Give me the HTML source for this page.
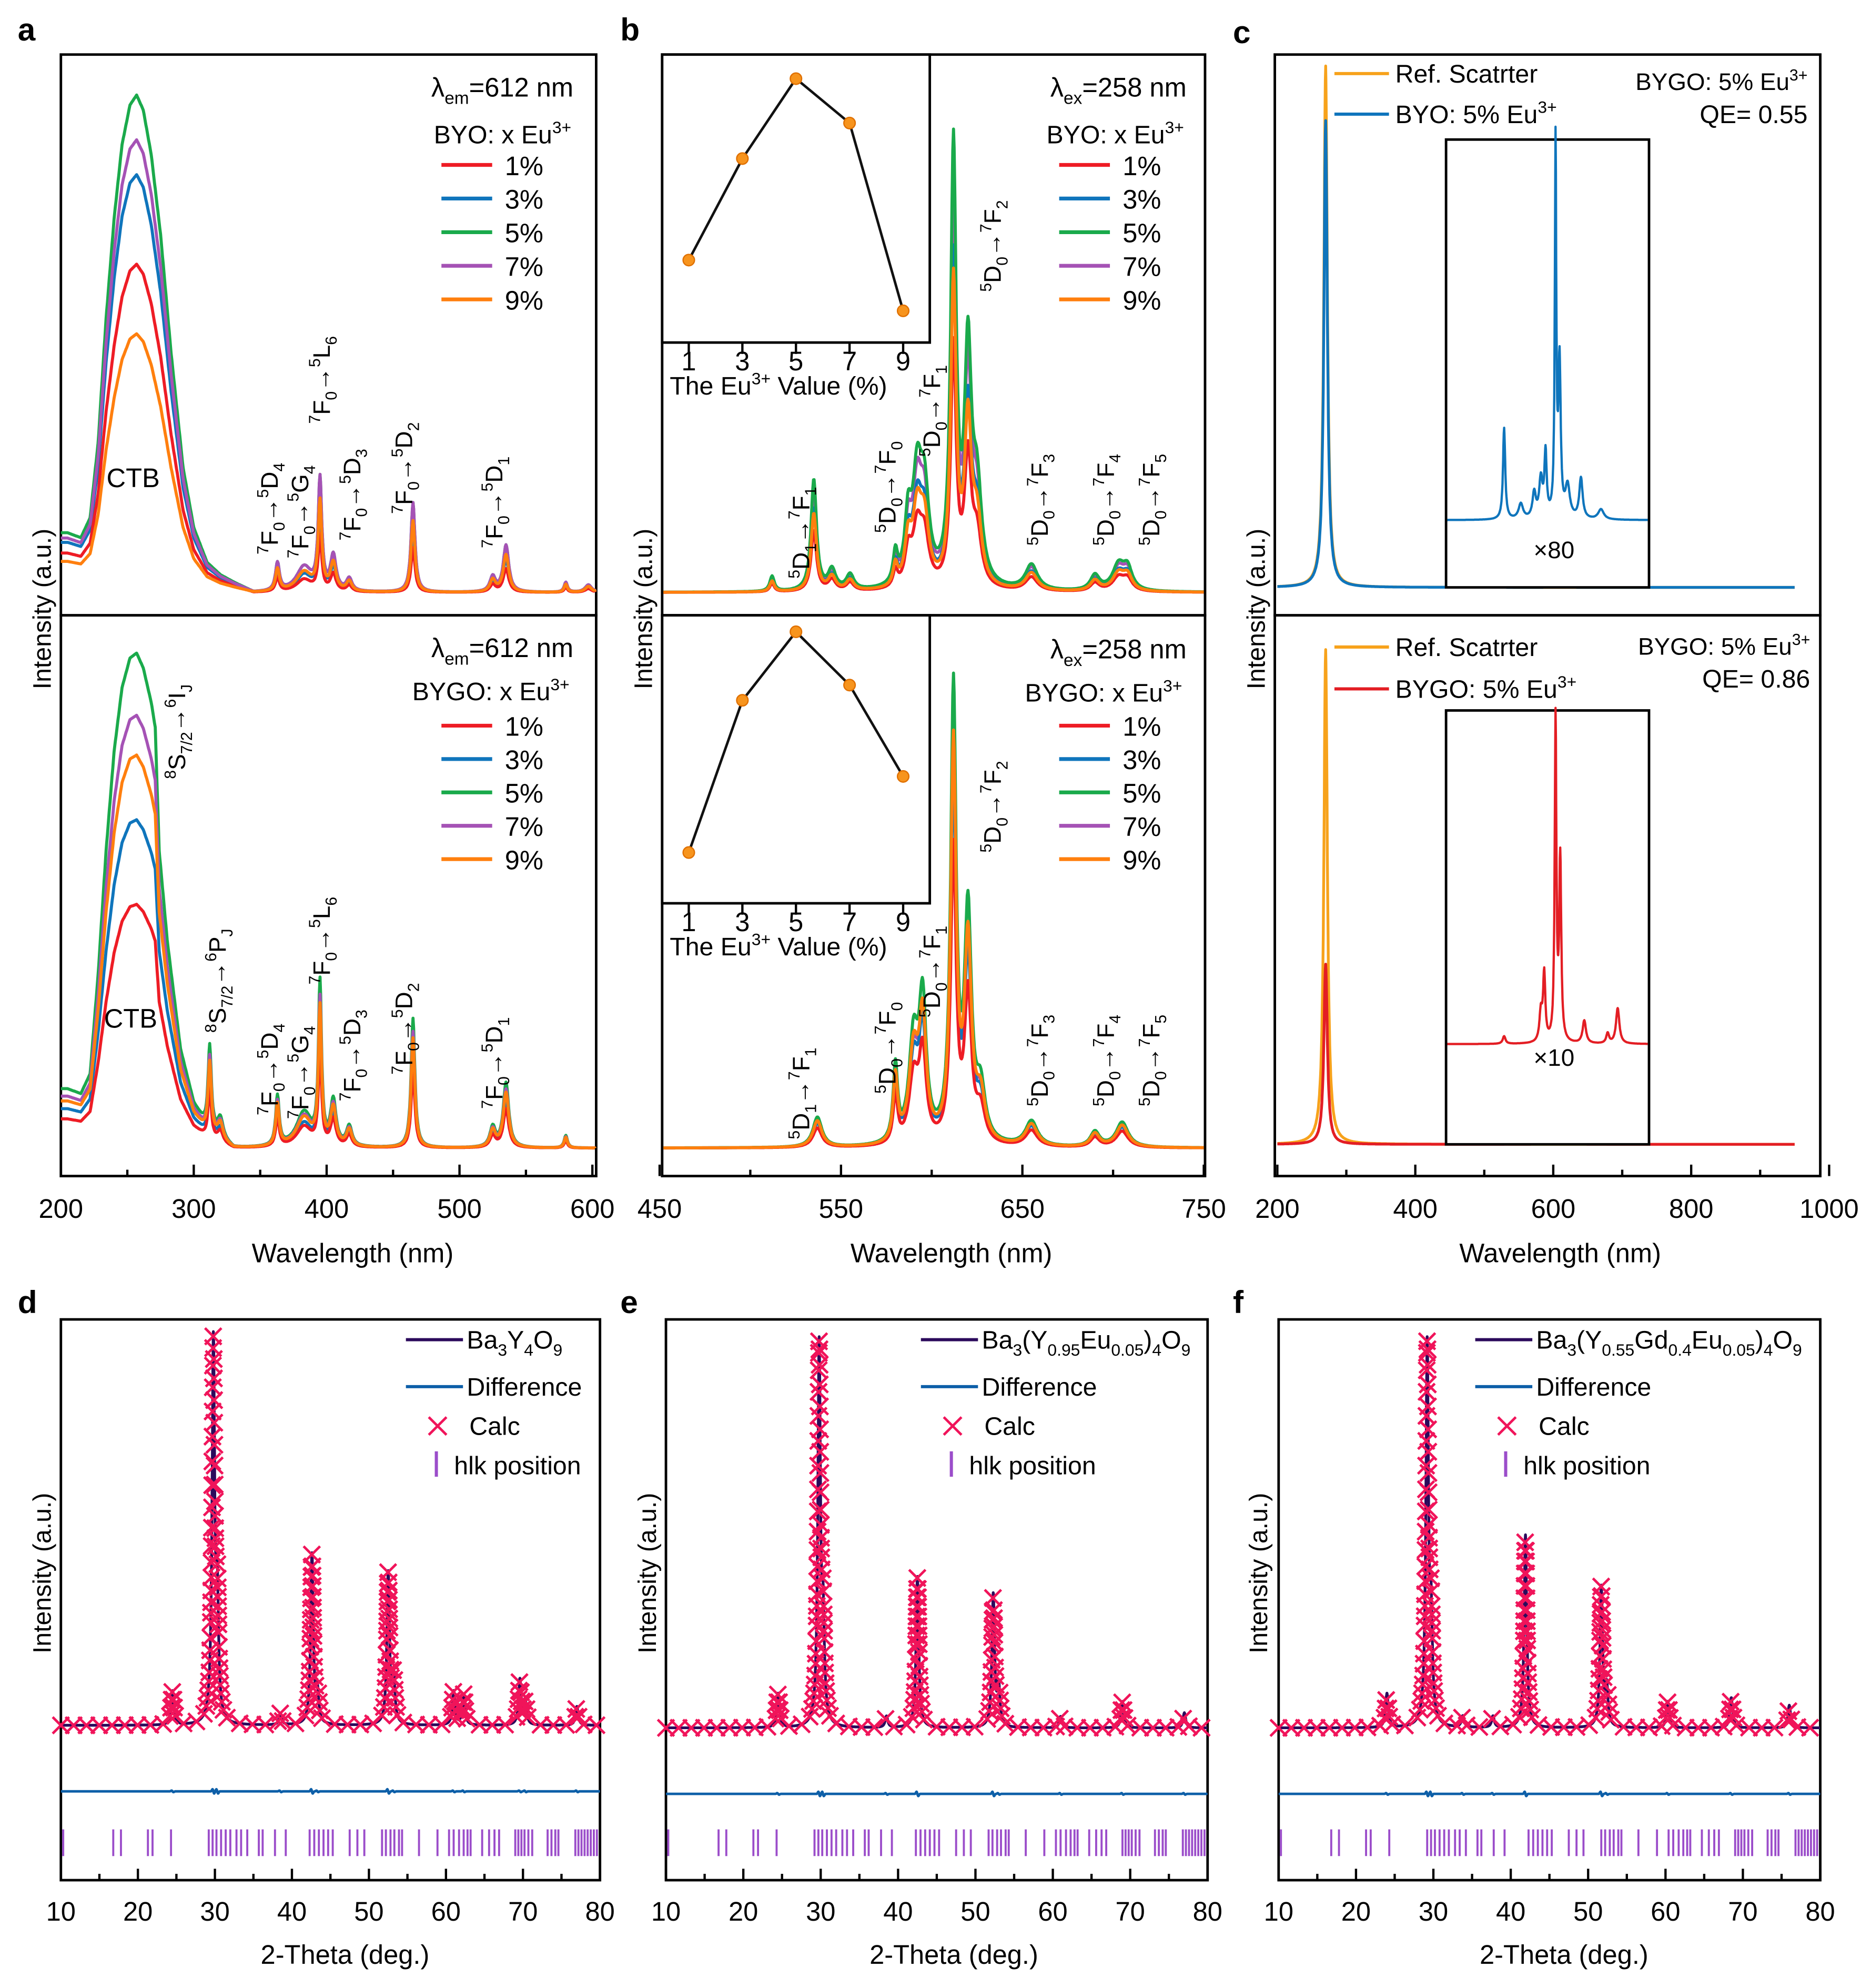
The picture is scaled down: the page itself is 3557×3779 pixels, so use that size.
<!DOCTYPE html>
<html><head><meta charset="utf-8"><style>
html,body{margin:0;padding:0;background:#fff;}
svg{display:block;font-family:"Liberation Sans",Arial,sans-serif;}
</style></head><body>
<svg id="fig" xmlns="http://www.w3.org/2000/svg" width="3557" height="3779" viewBox="0 0 1475 1567" preserveAspectRatio="none"></svg>
<script>
// ---------- data ----------
const seriesNames=['1%','3%','5%','7%','9%'];
const seriesColors=['#ee1c25','#0f75bc','#1aaa4b','#a552b5','#ff7f0e'];
// panel a excitation band shape
const bandTopW=[205,215,222,228,234,240,246,252,257,262,268,275,283,292,300,310,320,330,345];
const bandTopV=[0.12,0.11,0.15,0.3,0.55,0.75,0.9,0.98,1.0,0.97,0.88,0.72,0.48,0.25,0.13,0.06,0.035,0.02,0];
const bandBotW=[205,215,222,228,234,240,246,252,257,262,268,271,274,280,290,300,310,320,330];
const bandBotV=[0.12,0.11,0.15,0.35,0.6,0.8,0.93,0.99,1.0,0.97,0.9,0.85,0.6,0.42,0.2,0.09,0.04,0.02,0];
const aTopAmp=[0.66,0.84,1.0,0.91,0.52];
const aTopPeakScale=[0.5,0.7,1.0,1.0,0.8];
const aBotAmp=[0.49,0.66,0.995,0.87,0.79];
const aBotPeakScale=[0.6,0.7,1.0,0.9,0.85];
const aTopPeaks=[[363,0.056,1.8],[383,0.05,7],[395,0.22,1.6],[405,0.07,2.5],[417,0.025,2.5],[465,0.18,1.8],[525,0.03,2.5],[535,0.094,2.5],[580,0.02,1.5],[597,0.015,3]];
const aBotPeaks=[[312,0.17,1.5],[320,0.04,2.5],[363,0.1,1.6],[383,0.07,7],[395,0.32,1.4],[405,0.09,2.5],[417,0.04,2.5],[465,0.26,1.7],[525,0.04,2.5],[535,0.13,2.5],[580,0.025,1.5]];
// panel b emission
const bTopPeaks=[[512,0.03,1.5],[535,0.22,1.8],[545,0.04,2.5],[555,0.03,2.5],[580,0.06,1.5],[587,0.12,2.2],[592,0.2,3],[596,0.17,3],[612,0.86,1.8],[620,0.45,2.3],[625,0.18,3],[655,0.05,4],[690,0.03,3],[703,0.05,4],[708,0.04,3]];
const bTopScale=[0.55,0.75,1.0,0.9,0.7];
const bBotPeaks=[[537,0.06,3],[580,0.15,1.5],[590,0.2,3],[595,0.27,2.4],[612,0.9,1.8],[620,0.45,2.3],[627,0.1,3],[655,0.05,4],[690,0.03,3],[705,0.05,4]];
const bBotScale=[0.65,0.8,1.0,0.85,0.88];
// inset values
const insetX=[1,3,5,7,9];
const insetTopV=[65,145,208,173,25];
const insetBotV=[40,160,214,172,100];
// panel c
const cTopRefPeak=[[270,411,3]];
const cTopSamPeak=[[270,368,3],[612,3,2]];
const cTopInsetPeaks=[[535,72,2],[560,12,4],[580,20,3],[590,30,3],[597,50,2],[612,295,1.3],[618,120,2],[630,25,4],[650,32,3],[680,8,5]];
const cBotRefPeak=[[270,390,3]];
const cBotSamPeak=[[270,142,3],[595,15,2],[612,50,1.2],[620,25,1.5]];
const cBotInsetPeaks=[[535,6,2.5],[590,23,2.5],[595,53,2],[612,255,1.5],[619,143,1.8],[655,18,3],[690,8,2.5],[705,28,3]];
// XRD
const xrdDPeaks=[[24.5,9],[29.8,100],[30.3,30],[38.5,3],[42.6,45],[43.3,8],[52.5,40],[53.2,12],[61.0,9],[62.3,8],[69.6,12],[70.3,6],[77.0,5]];
const xrdEPeaks=[[24.5,9],[29.8,100],[30.3,25],[38.5,3],[42.5,40],[52.3,35],[53.0,10],[61.0,3],[69.0,7],[77.0,4]];
const xrdFPeaks=[[24.0,9],[29.2,100],[29.7,25],[33.8,3],[37.7,3],[41.9,51],[51.7,37],[52.4,10],[60.3,7],[68.5,8],[76.0,6]];
const hklPos=[10.3,16.8,17.8,21.3,21.9,24.3,29.2,29.7,30.2,30.8,31.4,32.0,32.8,33.4,34.2,35.7,36.2,37.8,39.2,42.3,42.9,43.5,44.1,44.7,45.3,47.5,48.5,49.4,51.7,52.2,52.8,53.3,53.9,54.3,56.5,58.9,60.4,61.0,61.7,62.3,62.8,63.2,64.7,65.6,66.3,66.9,69.0,69.4,69.8,70.2,70.7,71.2,73.2,73.7,74.2,74.6,76.8,77.2,77.6,78.0,78.4,78.8,79.2,79.6];
const xrdTicksMajor=[10,20,30,40,50,60,70,80];

// ---------- helpers ----------
const NS='http://www.w3.org/2000/svg';
const svg=document.getElementById('fig');
function mk(tag,parent){const e=document.createElementNS(NS,tag);(parent||svg).appendChild(e);return e;}
function lin(d0,d1,r0,r1){return v=>r0+(v-d0)*(r1-r0)/(d1-d0);}
function interp(ws,vs,x){if(x<=ws[0])return vs[0];for(let i=1;i<ws.length;i++){if(x<=ws[i]){const t=(x-ws[i-1])/(ws[i]-ws[i-1]);return vs[i-1]+t*(vs[i]-vs[i-1]);}}return vs[vs.length-1];}
function peakSum(x,peaks,s){let t=0;for(const p of peaks){const d=(x-p[0])/p[2];t+=p[1]/(1+d*d);}return t*s;}
function pathD(pts){return pts.map((p,i)=>(i?'L':'M')+p[0].toFixed(1)+' '+p[1].toFixed(1)).join('');}
function rich(parent,x,y,str,size,opts){
  const t=mk('text',parent);t.setAttribute('x',x);t.setAttribute('y',y);t.setAttribute('font-size',size);
  if(opts&&opts.anchor)t.setAttribute('text-anchor',opts.anchor);
  if(opts&&opts.rot)t.setAttribute('transform','rotate(-90 '+x+' '+y+')');
  if(opts&&opts.weight)t.setAttribute('font-weight',opts.weight);
  const re=/([\^_])\{([^}]*)\}|([^\^_]+)/g;let m;let shift=0;
  while((m=re.exec(str))){const ts=mk('tspan',t);
    if(m[3]){ts.textContent=m[3];ts.setAttribute('dy',-shift);shift=0;}
    else{const s=m[1]==='^'?-0.4*size:0.28*size;ts.textContent=m[2];ts.setAttribute('font-size',size*0.66);ts.setAttribute('dy',s-shift);shift=s;}}
  return t;}
function frame(x0,y0,x1,y1,name){const r=mk('rect');r.setAttribute('x',x0);r.setAttribute('y',y0);r.setAttribute('width',x1-x0);r.setAttribute('height',y1-y0);r.setAttribute('fill','none');r.setAttribute('stroke','#000');r.setAttribute('stroke-width','2');

return r;}
function line(x0,y0,x1,y1,c,w,g){const l=mk('line',g);l.setAttribute('x1',x0);l.setAttribute('y1',y0);l.setAttribute('x2',x1);l.setAttribute('y2',y1);l.setAttribute('stroke',c);l.setAttribute('stroke-width',w);return l;}
function curve(pts,c,w,name,g){const p=mk('path',g);p.setAttribute('d',pathD(pts));p.setAttribute('fill','none');p.setAttribute('stroke',c);p.setAttribute('stroke-width',w);p.setAttribute('stroke-linejoin','round');

return p;}
function xAxis(xs,ticksMaj,ticksMin,yBot,labY,name){const g=mk('g');


for(const t of ticksMaj){line(xs(t),yBot,xs(t),yBot-9,'#000',1.8,g);const tx=mk('text',g);tx.setAttribute('x',xs(t));tx.setAttribute('y',labY);tx.setAttribute('font-size',21);tx.setAttribute('text-anchor','middle');tx.textContent=t;}
for(const t of ticksMin){line(xs(t),yBot,xs(t),yBot-5,'#000',1.8,g);}}
function label(x,y,str,size,name,opts){const t=rich(svg,x,y,str,size,opts);

return t;}

// ---------- panel letters & titles ----------
[['a',14,32],['b',489,32],['c',972,34],['d',14,1035],['e',489,1035],['f',972,1035]].forEach(p=>{label(p[1],p[2],p[0],25,'panel-letter-'+p[0],{weight:'bold'});});
[[40,480],[514,480],[997,480],[40,1240],[517,1240],[999,1240]].forEach((p,i)=>{label(p[0],p[1],'Intensity (a.u.)',20,'y-axis-title',{rot:true,anchor:'middle'});});
[[278,995,'Wavelength (nm)'],[750,995,'Wavelength (nm)'],[1230,995,'Wavelength (nm)'],[272,1548,'2-Theta (deg.)'],[752,1548,'2-Theta (deg.)'],[1233,1548,'2-Theta (deg.)']].forEach(p=>{label(p[0],p[1],p[2],21,'x-axis-title',{anchor:'middle'});});

// ---------- panel a ----------
const ax=lin(200,600,48,467);
frame(48,43,470,485,'panel-a-top-frame');frame(48,485,470,927,'panel-a-bottom-frame');
xAxis(ax,[200,300,400,500,600],[250,350,450,550],927,960,'panel-a-x-axis');
function drawA(ws,vs,amps,pscale,peaks,ys,tag){
  const order=[2,1,0,3,4];
  for(const i of order){const pts=[];for(let w=200;w<=605;w+=0.5){const v=amps[i]*interp(ws,vs,w)+peakSum(w,peaks,pscale[i]);pts.push([Math.min(ax(w),469),ys(v)]);}
  curve(pts,seriesColors[i],2.4,tag+'-series-'+seriesNames[i].replace('%','pct'));}}
drawA(bandTopW,bandTopV,aTopAmp,aTopPeakScale,aTopPeaks,lin(0,1,467,75),'panel-a-top');
drawA(bandBotW,bandBotV,aBotAmp,aBotPeakScale,aBotPeaks,lin(0,1,905,513),'panel-a-bottom');

function legend5(x,y0,dy,name){for(let i=0;i<5;i++){const y=y0+i*dy;const l=line(x,y,x+40,y,seriesColors[i],3);


label(x+50,y+8,seriesNames[i],21,name+'-label');}}
label(340,76,'λ_{em}=612 nm',21,'panel-a-top-excitation-label');
label(342,113,'BYO: x Eu^{3+}',20,'panel-a-top-legend-title');
legend5(348,130,26.5,'panel-a-top-legend');
label(340,518,'λ_{em}=612 nm',21,'panel-a-bottom-excitation-label');
label(325,552,'BYGO: x Eu^{3+}',20,'panel-a-bottom-legend-title');
legend5(348,572,26.3,'panel-a-bottom-legend');
label(84,384,'CTB',21,'panel-a-top-ctb-label');
label(82,810,'CTB',21,'panel-a-bottom-ctb-label');
const annA=[[219,437,'^{7}F_{0}→^{5}D_{4}'],[243,440,'^{7}F_{0}→^{5}G_{4}'],[260,334,'^{7}F_{0}→^{5}L_{6}'],[284,426,'^{7}F_{0}→^{5}D_{3}'],[325,405,'^{7}F_{0}→^{5}D_{2}'],[396,432,'^{7}F_{0}→^{5}D_{1}']];
annA.forEach(a=>{label(a[0],a[1],a[2],19,'panel-a-top-transition-label',{rot:true});});
annA.forEach(a=>{label(a[0],a[1]+442,a[2],19,'panel-a-bottom-transition-label',{rot:true});});
label(146,614,'^{8}S_{7/2}→^{6}I_{J}',19,'panel-a-bottom-gd-label-1',{rot:true});
label(178,814,'^{8}S_{7/2}→^{6}P_{J}',19,'panel-a-bottom-gd-label-2',{rot:true});

// ---------- panel b ----------
const bx=lin(450,750,520,949);
frame(522,43,950,485,'panel-b-top-frame');frame(522,485,950,927,'panel-b-bottom-frame');
xAxis(bx,[450,550,650,750],[500,600,700],927,960,'panel-b-x-axis');
function drawB(peaks,scale,ys,tag){const order=[3,1,0,2,4];
  for(const i of order){const pts=[];for(let w=450;w<=750;w+=0.4){pts.push([Math.max(bx(w),523),ys(peakSum(w,peaks,scale[i]))]);}
  curve(pts,seriesColors[i],2.4,tag+'-series-'+seriesNames[i].replace('%','pct'));}}
drawB(bTopPeaks,bTopScale,lin(0,1,467,68),'panel-b-top');
drawB(bBotPeaks,bBotScale,lin(0,1,905,510),'panel-b-bottom');
function inset(y0,y1,vals,tag){const r=mk('rect');r.setAttribute('x',522);r.setAttribute('y',y0);r.setAttribute('width',211);r.setAttribute('height',y1-y0);r.setAttribute('fill','#fff');r.setAttribute('stroke','#000');r.setAttribute('stroke-width',2);


const ix=lin(1,9,543,712),iy=lin(0,227,y1,y0);
for(const t of insetX){line(ix(t),y1,ix(t),y1+9,'#000',1.8);const tx=mk('text');tx.setAttribute('x',ix(t));tx.setAttribute('y',y1+22);tx.setAttribute('font-size',21);tx.setAttribute('text-anchor','middle');tx.textContent=t;

}
curve(insetX.map((x,i)=>[ix(x),iy(vals[i])]),'#111',2,tag+'-line');
insetX.forEach((x,i)=>{const c=mk('circle');c.setAttribute('cx',ix(x));c.setAttribute('cy',iy(vals[i]));c.setAttribute('r',4.5);c.setAttribute('fill','#f7941d');c.setAttribute('stroke','#e07000');c.setAttribute('stroke-width',1);

});
label(528,y1+41,'The Eu^{3+} Value (%)',20,tag+'-axis-title');}
inset(43,270,insetTopV,'panel-b-top-inset');
inset(485,712,insetBotV,'panel-b-bottom-inset');
label(828,76,'λ_{ex}=258 nm',21,'panel-b-top-excitation-label');
label(825,113,'BYO: x Eu^{3+}',20,'panel-b-top-legend-title');
legend5(835,130,26.5,'panel-b-top-legend');
label(828,519,'λ_{ex}=258 nm',21,'panel-b-bottom-excitation-label');
label(808,553,'BYGO: x Eu^{3+}',20,'panel-b-bottom-legend-title');
legend5(835,572,26.3,'panel-b-bottom-legend');
const annB=[[638,456,'^{5}D_{1}→^{7}F_{1}'],[706,420,'^{5}D_{0}→^{7}F_{0}'],[741,360,'^{5}D_{0}→^{7}F_{1}'],[789,230,'^{5}D_{0}→^{7}F_{2}'],[826,430,'^{5}D_{0}→^{7}F_{3}'],[878,430,'^{5}D_{0}→^{7}F_{4}'],[914,430,'^{5}D_{0}→^{7}F_{5}']];
annB.forEach(a=>{label(a[0],a[1],a[2],19,'panel-b-top-transition-label',{rot:true});});
annB.forEach(a=>{label(a[0],a[1]+442,a[2],19,'panel-b-bottom-transition-label',{rot:true});});

// ---------- panel c ----------
const cx=lin(200,1000,1007,1442);
frame(1005,43,1435,485,'panel-c-top-frame');frame(1005,485,1435,927,'panel-c-bottom-frame');
xAxis(cx,[200,400,600,800,1000],[300,500,700,900],927,960,'panel-c-x-axis');
function drawC(peaks,base,color,name){const ys=v=>base-v;const pts=[];for(let w=200;w<=950;w+=0.5){pts.push([Math.max(cx(w),1006),ys(peakSum(w,peaks,1))]);}curve(pts,color,2.2,name);}
drawC(cTopRefPeak,463,'#f7a21b','panel-c-top-ref-scatter');
drawC(cTopSamPeak,463,'#0f75bc','panel-c-top-byo-spectrum');
drawC(cBotRefPeak,902,'#f7a21b','panel-c-bottom-ref-scatter');
drawC(cBotSamPeak,902,'#e31e24','panel-c-bottom-bygo-spectrum');
function cInset(y0,y1,base,peaks,color,mult,tag){const r=mk('rect');r.setAttribute('x',1140);r.setAttribute('y',y0);r.setAttribute('width',160);r.setAttribute('height',y1-y0);r.setAttribute('fill','#fff');r.setAttribute('stroke','#000');r.setAttribute('stroke-width',2);


const ix=lin(450,750,1141,1299);const pts=[];for(let w=450;w<=750;w+=0.5){pts.push([ix(w),base-peakSum(w,peaks,1)]);}
curve(pts,color,1.8,tag+'-spectrum');
label(1209,mult==='×80'?440:840,mult,19,tag+'-multiplier');}
cInset(110,463,410,cTopInsetPeaks,'#0f75bc','×80','panel-c-top-inset');
cInset(560,902,823,cBotInsetPeaks,'#e31e24','×10','panel-c-bottom-inset');
function cLegend(y1,y2,c2,t2,name){let l=line(1052,y1,1095,y1,'#f7a21b',2.5);


l=line(1052,y2,1095,y2,c2,2.5);


label(1100,y1+7,'Ref. Scatrter',20,name+'-ref-label');label(1100,y2+7,t2,20,name+'-sample-label');}
cLegend(58,90,'#0f75bc','BYO: 5% Eu^{3+}','panel-c-top-legend');
cLegend(510,543,'#e31e24','BYGO: 5% Eu^{3+}','panel-c-bottom-legend');
label(1425,71,'BYGO: 5% Eu^{3+}',19,'panel-c-top-sample-note',{anchor:'end'});
label(1425,97,'QE= 0.55',20,'panel-c-top-qe',{anchor:'end'});
label(1427,516,'BYGO: 5% Eu^{3+}',19,'panel-c-bottom-sample-note',{anchor:'end'});
label(1427,542,'QE= 0.86',20,'panel-c-bottom-qe',{anchor:'end'});

// ---------- XRD panels ----------
function xrd(x0,x1,peaks,base,legX,legTxt,tag){
  const xs=lin(10,80,x0,x1);frame(x0,1040,x1,1482,tag+'-frame');
  const minor=[15,25,35,45,55,65,75];xAxis(xs,xrdTicksMajor,minor,1482,1514,tag+'-x-axis');
  const k=298/100,obs=[];for(let t=10;t<=80;t+=0.02){obs.push([xs(t),base-k*peakSum(t,peaks.map(p=>[p[0],p[1],0.2]),1)]);}
  curve(obs,'#2b0a5c',2.2,tag+'-observed');
  const diff=[];for(let t=10;t<=80;t+=0.05){let d=0;for(const p of peaks){const q=(t-p[0])/0.15;d+=(p[1]>20?4:1.5)*q*Math.exp(-q*q);}diff.push([xs(t),base+52+d]);}
  curve(diff,'#0d5fa8',2,tag+'-difference');
  const g=mk('g');


  let last=null;const mpath=[];
  for(const p of obs){if(!last||Math.abs(p[1]-last[1])>6||p[0]-last[0]>10){const s=6.5;mpath.push('M'+(p[0]-s)+' '+(p[1]-s)+'l'+2*s+' '+2*s+'M'+(p[0]+s)+' '+(p[1]-s)+'l'+(-2*s)+' '+2*s);last=p;}}
  const mp=mk('path',g);mp.setAttribute('d',mpath.join(''));mp.setAttribute('stroke','#f0145a');mp.setAttribute('stroke-width',2);mp.setAttribute('fill','none');
  const hg=mk('g');


  for(const h of hklPos){line(xs(h),1442,xs(h),1463,'#9b4dca',1.6,hg);}
  let l=line(legX,1056,legX+45,1056,'#2b0a5c',2.5);


  label(legX+48,1063,legTxt,20,tag+'-legend-observed');
  l=line(legX,1093,legX+45,1093,'#0d5fa8',2.5);


  label(legX+48,1100,'Difference',20,tag+'-legend-difference');
  const mx=legX+25,my=1124;const xm=mk('path');xm.setAttribute('d','M'+(mx-7)+' '+(my-7)+'l14 14M'+(mx+7)+' '+(my-7)+'l-14 14');xm.setAttribute('stroke','#f0145a');xm.setAttribute('stroke-width',2);


  label(legX+50,1131,'Calc',20,tag+'-legend-calc');
  l=line(legX+24,1144,legX+24,1164,'#9b4dca',2.5);


  label(legX+38,1162,'hlk position',20,tag+'-legend-hkl');}
xrd(48,473,xrdDPeaks,1360,320,'Ba_{3}Y_{4}O_{9}','panel-d');
xrd(525,952,xrdEPeaks,1362,726,'Ba_{3}(Y_{0.95}Eu_{0.05})_{4}O_{9}','panel-e');
xrd(1008,1435,xrdFPeaks,1362,1163,'Ba_{3}(Y_{0.55}Gd_{0.4}Eu_{0.05})_{4}O_{9}','panel-f');
</script>
</body></html>
